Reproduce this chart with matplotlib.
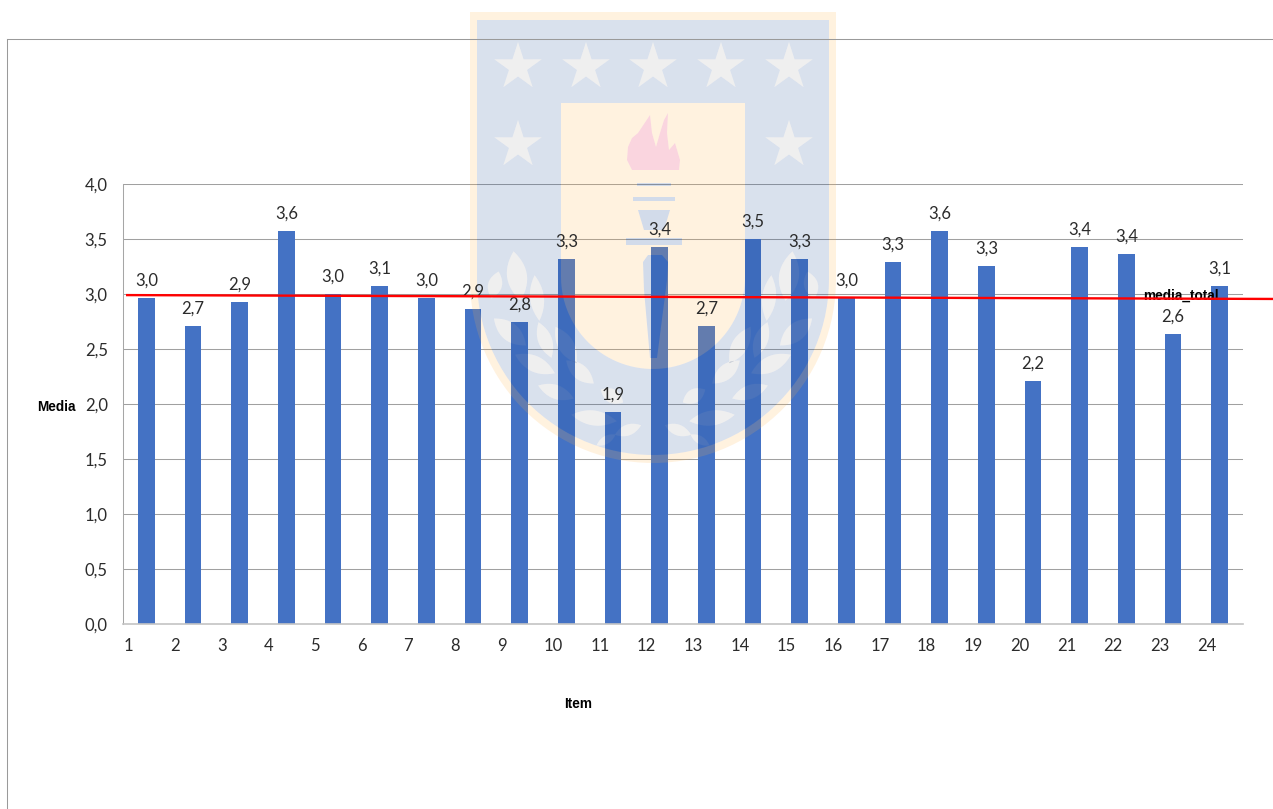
import numpy as np
import matplotlib
matplotlib.use("Agg")
import matplotlib.pyplot as plt
from matplotlib.lines import Line2D
from matplotlib.path import Path
from matplotlib.patches import PathPatch
from matplotlib.transforms import Affine2D

plt.rcParams["font.family"] = ["Lato", "DejaVu Sans"]

# Mean score per questionnaire item
items = [str(i) for i in range(1, 25)]
medias = [2.96, 2.71, 2.93, 3.57, 3.00, 3.07, 2.96, 2.86, 2.75, 3.32, 1.93, 3.43,
          2.71, 3.50, 3.32, 2.96, 3.29, 3.57, 3.251, 2.21, 3.43, 3.36, 2.64, 3.07]
y_ticks = [0.0, 0.5, 1.0, 1.5, 2.0, 2.5, 3.0, 3.5, 4.0]
media_total_x = [-0.41, 24.14]
media_total_y = [2.99, 2.955]


def coma(v):
    return f"{v:.1f}".replace(".", ",")


fig = plt.figure(figsize=(12.73, 8.09), dpi=100)
ax = fig.add_axes([123 / 1273, 185 / 809, 1120 / 1273, 440 / 809])

# image pixel coordinates, used for the free labels and the crest
px = Affine2D().scale(1 / 1273, -1 / 809).translate(0, 1) + fig.transFigure

x = np.arange(len(items))
ax.bar(x, medias, width=0.36, color="#4472C4", zorder=2)
ax.set_xlim(-0.5, 23.5)
ax.set_ylim(0, 4)

ax.set_yticks(y_ticks)
ax.set_yticklabels([coma(v) for v in y_ticks], fontsize=12, color="#2b2b2b")
# item numbers start left of their bars
ax.set_xticks(x - 0.49)
ax.set_xticklabels(items, fontsize=12, color="#2b2b2b", ha="left")
ax.tick_params(axis="y", length=0, pad=11)
ax.tick_params(axis="x", length=0, pad=10)

ax.grid(axis="y", color="#a0a0a0", linewidth=0.75, zorder=1)
ax.spines["top"].set_visible(False)
ax.spines["right"].set_visible(False)
ax.spines["left"].set_color("#a6a6a6")
ax.spines["left"].set_linewidth(0.75)
ax.spines["bottom"].set_color("#c4c4c4")
ax.spines["bottom"].set_linewidth(1.2)

for xi, v in zip(x, medias):
    ax.annotate(coma(v), (xi, v), xytext=(0, 12.5), textcoords="offset points", ha="center",
                va="center", fontsize=12, color="#2b2b2b", zorder=6)

ax.plot(media_total_x, media_total_y, color="#FF0000", linewidth=1.7, clip_on=False, zorder=7)
ax.text(1181, 296, "media_total", fontsize=9.8, fontweight="bold", color="black",
        family="Liberation Sans", ha="center", va="center", zorder=6, transform=px)

fig.text(56 / 1273, 1 - 407 / 809, "Media", fontsize=9.8, fontweight="bold",
         family="Liberation Sans", ha="center", va="center")
fig.text(578 / 1273, 1 - 704 / 809, "Item", fontsize=9.8, fontweight="bold",
         family="Liberation Sans", ha="center", va="center")

# outer frame, only top and left edges
fig.add_artist(Line2D([6.8 / 1273, 6.8 / 1273], [0, 1 - 38.8 / 809], color="#9a9a9a", linewidth=0.75))
fig.add_artist(Line2D([6.8 / 1273, 1], [1 - 38.8 / 809, 1 - 38.8 / 809], color="#9a9a9a", linewidth=0.75))


# --- university crest over the bars, coordinates in image pixels ---
def shield(x0, x1, y0, y_bottom):
    r = (x1 - x0) / 2
    t = np.linspace(0, np.pi, 60)
    y_split = y_bottom - r
    cx = (x0 + x1) / 2
    curve = np.column_stack([cx + r * np.cos(t), y_split + r * np.sin(t)])
    return np.vstack([[[x1, y0]], curve, [[x0, y0]]])


def star(cx, cy, r):
    ang = np.radians(-90 + 36 * np.arange(10))
    rad = np.where(np.arange(10) % 2 == 0, r, r * 0.38)
    return np.column_stack([cx + rad * np.cos(ang), cy + rad * np.sin(ang)])


def leaf(cx, cy, length, width, angle):
    t = np.linspace(-1, 1, 15)
    up = np.column_stack([t * length / 2, (1 - t ** 2) * width / 2])
    down = np.column_stack([t[::-1] * length / 2, -(1 - t[::-1] ** 2) * width / 2])
    pts = np.vstack([up, down[1:-1]])
    a = np.radians(angle)
    rot = np.array([[np.cos(a), -np.sin(a)], [np.sin(a), np.cos(a)]])
    return pts @ rot.T + [cx, cy]


def oriented(pts, ccw=True):
    area = 0.5 * np.sum(pts[:, 0] * np.roll(pts[:, 1], -1) - np.roll(pts[:, 0], -1) * pts[:, 1])
    if (area > 0) != ccw:
        pts = pts[::-1]
    return pts


def compound(outer, holes=()):
    verts, codes = [], []
    for i, poly in enumerate([outer] + list(holes)):
        p = oriented(poly, ccw=(i == 0))
        verts.extend(p.tolist() + [p[0].tolist()])
        codes.extend([Path.MOVETO] + [Path.LINETO] * (len(p) - 1) + [Path.CLOSEPOLY])
    return Path(verts, codes)


def draw(path, color, alpha):
    ax.add_patch(PathPatch(path, facecolor=color, edgecolor="none", alpha=alpha,
                           transform=px, clip_on=False, zorder=4))


outer = shield(470, 836, 12, 463)
inner = shield(477, 829, 20, 455)
panel = shield(561, 745, 103, 369)

star_list = [star(sx, 67, 25) for sx in (518, 586, 653, 721, 789)]
star_list += [star(518, 145, 25), star(789, 145, 25)]

# laurel branch, left half: centre x, centre y, length, width, angle
left_leaves = [(517, 276, 50, 20, 82), (495, 285, 28, 14, 105), (537, 298, 46, 14, 84),
               (510, 332, 42, 18, 40), (545, 340, 38, 14, 70), (566, 345, 42, 16, 60),
               (535, 364, 44, 16, 25), (580, 372, 36, 15, 40), (556, 392, 38, 14, 20),
               (612, 396, 26, 14, 30), (594, 418, 46, 15, 8),
               (628, 430, 28, 11, -20), (606, 440, 22, 8, -30)]
leaves = []
for lx, ly, ll, lw, la in left_leaves:
    leaves.append(leaf(lx, ly, ll, lw, la))
    leaves.append(leaf(2 * 653 - lx, ly, ll, lw, 180 - la))

# torch rims, cup and handle
torch_parts = [
    np.array([[637, 183], [671, 183], [671, 186], [637, 186]]),
    np.array([[633, 197], [675, 197], [675, 201], [633, 201]]),
    np.array([[638, 210], [670, 210], [664, 230], [644, 230]]),
    np.array([[626, 238], [682, 238], [682, 245], [626, 245]]),
    np.array([[643, 262], [648, 255], [662, 255], [668, 262], [667, 280], [657, 358], [650, 358], [644, 290]]),
]
flame = np.array([[627, 160], [628, 147], [632, 138], [638, 133], [644, 124], [650, 115], [652, 133],
                  [656, 147], [660, 133], [664, 120], [668, 113], [667, 133], [669, 150], [675, 143],
                  [680, 160], [679, 170], [632, 170]])

draw(compound(outer, [inner]), "#FFB347", 0.17)
draw(compound(panel, torch_parts + [flame]), "#FFB347", 0.17)
draw(compound(inner, [panel] + star_list + leaves), "#1F4E9A", 0.17)
for s in star_list + leaves:
    draw(compound(s), "#808080", 0.12)
for part in torch_parts:
    draw(compound(part), "#1F4E9A", 0.2)
draw(compound(flame), "#EE6A8C", 0.28)

fig.savefig("out.png", dpi=100)
